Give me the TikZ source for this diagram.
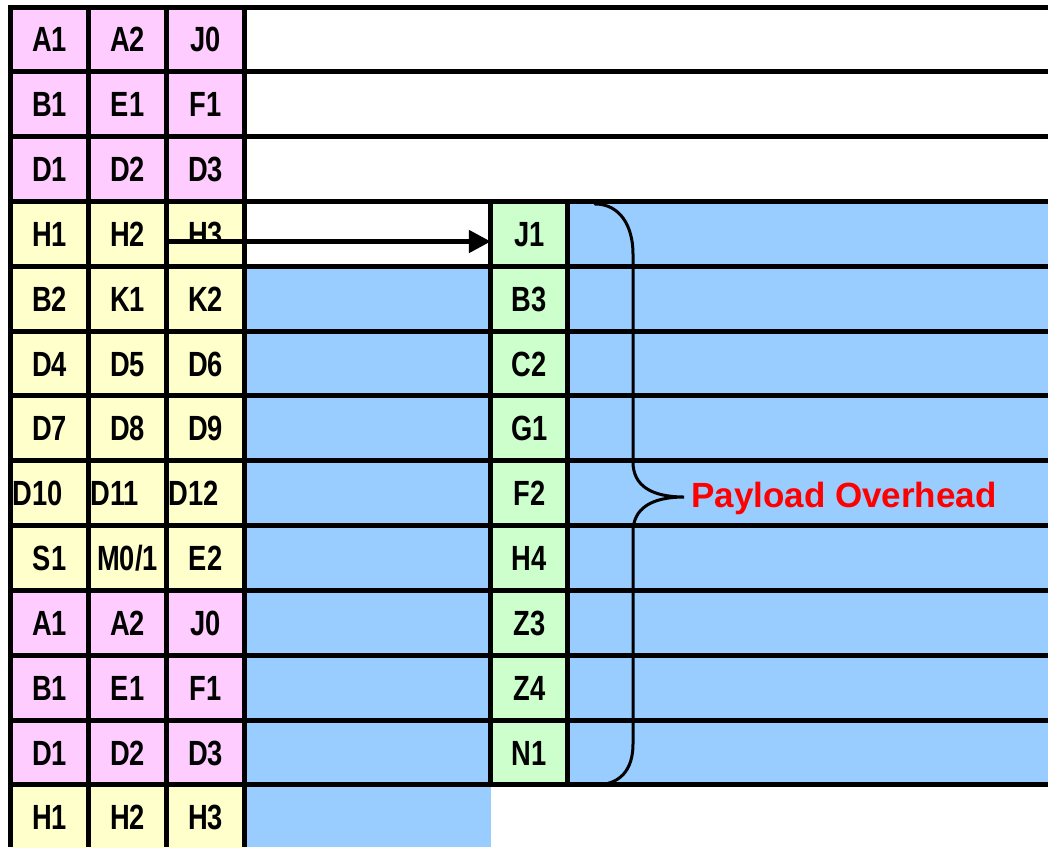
\documentclass[tikz,border=0pt]{standalone}
\usepackage{fontspec}
\newfontfamily\cellfont[FakeStretch=0.78]{Liberation Sans}
\newfontfamily\redfont{Liberation Sans}
\usetikzlibrary{arrows.meta}
\definecolor{pinkc}{HTML}{FFCCFF}
\definecolor{yellowc}{HTML}{FFFFCC}
\definecolor{greenc}{HTML}{CCFFCC}
\definecolor{bluec}{HTML}{99CCFF}
\definecolor{redc}{HTML}{FF0000}
\tikzset{
  cell/.style={minimum width=78pt, minimum height=64.83pt, inner xsep=2pt, inner ysep=0pt,
    text width=74pt, text height=25pt, text depth=0pt,
    font=\cellfont\bfseries\fontsize{35}{40}\selectfont},
  gcell/.style={cell, minimum width=76.5pt, text width=72.5pt, fill=greenc, align=center},
  grid/.style={line width=5pt, black},
  brace/.style={line width=3pt, black, line cap=round},
  arrowline/.style={line width=5pt, black, -{Triangle[length=22pt,width=22pt]}},
  label/.style={text=redc, font=\redfont\bfseries\fontsize{35}{40}\selectfont, inner sep=0pt}
}
\begin{document}
\begin{tikzpicture}[x=1pt,y=-1pt]
\useasboundingbox (0,0) rectangle (1048,847);
\fill[white] (0,0) rectangle (1048,847);
% blue payload areas
\fill[bluec] (567.5,201.5) rectangle (1048,785);
\fill[bluec] (244.5,266.3) rectangle (491,847);
% overhead cells
\foreach \r/\c/\al/\a/\b/\d in {
 0/pinkc/center/A1/A2/J0,
 1/pinkc/center/B1/E1/F1,
 2/pinkc/center/D1/D2/D3,
 3/yellowc/center/H1/H2/H3,
 4/yellowc/center/B2/K1/K2,
 5/yellowc/center/D4/D5/D6,
 6/yellowc/center/D7/D8/D9,
 7/yellowc/left/D10/D11/D12,
 8/yellowc/center/S1/{M0/1}/E2,
 9/pinkc/center/A1/A2/J0,
 10/pinkc/center/B1/E1/F1,
 11/pinkc/center/D1/D2/D3,
 12/yellowc/center/H1/H2/H3}{
  \pgfmathsetmacro{\yc}{7+64.83*(\r+0.5)}
  \node[cell, fill=\c, align=\al] (c\r-1) at (49.5,\yc) {\a};
  \node[cell, fill=\c, align=\al] (c\r-2) at (127.5,\yc) {\b};
  \node[cell, fill=\c, align=\al] (c\r-3) at (205.5,\yc) {\d};
}
% path overhead column
\foreach \r/\t in {3/J1,4/B3,5/C2,6/G1,7/F2,8/H4,9/Z3,10/Z4,11/N1}{
  \pgfmathsetmacro{\yc}{7+64.83*(\r+0.5)}
  \node[gcell] (g\r) at (529.25,\yc) {\t};
}
% cover lower part of H3 in row 4
\fill[yellowc] (168.75,240) rectangle (242.25,264.5);
% grid lines
\foreach \i in {0,...,12}{
  \pgfmathsetmacro{\yy}{7+64.83*\i}
  \draw[grid] (8,\yy) -- (1048,\yy);
}
\foreach \xx in {10.5,88.5,166.5,244.5}{
  \draw[grid] (\xx,4.5) -- (\xx,847);
}
\draw[grid] (g3.north west) -- (g11.south west);
\draw[grid] (g3.north east) -- (g11.south east);
% pointer arrow
\coordinate (ptr) at (168.75,241.5);
\draw[arrowline] (ptr) -- (ptr -| g3.west);
% brace
\coordinate (tip) at (684,497);
\draw[brace] (595,204) .. controls (620,204) and (633,226) .. (633,254)
  -- (633,462) .. controls (633,486) and (652,497) .. (tip)
  .. controls (652,497) and (633,508) .. (633,532)
  -- (633,744) .. controls (633,770) and (620,785) .. (595,785);
\node[label, anchor=base west] (po) at ([xshift=7pt,yshift=-10pt]tip) {Payload Overhead};
\end{tikzpicture}
\end{document}
